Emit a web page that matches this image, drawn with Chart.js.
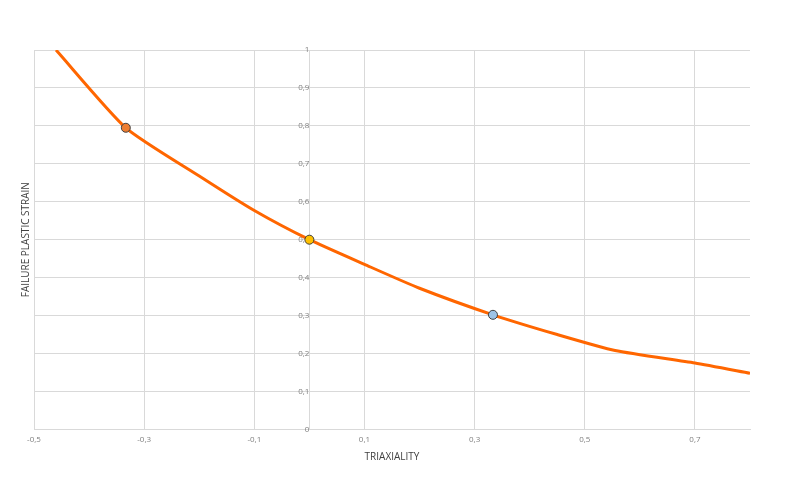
<!DOCTYPE html>
<html>
<head>
<meta charset="utf-8">
<script src="https://cdn.jsdelivr.net/npm/chart.js@4"></script>
<style>
  body { margin: 0; background: #fff; }
  #wrap { width: 787px; height: 484px; }
</style>
</head>
<body>
<div id="wrap"><canvas id="strainChart"></canvas></div>
<script>
// Curve
const triaxiality = [-0.46, -0.3333, -0.2, -0.1, 0, 0.1, 0.2, 0.3333, 0.45, 0.555, 0.7, 0.8]
const failureStrain = [1.0, 0.795, 0.668, 0.577, 0.5, 0.435, 0.372, 0.302, 0.25, 0.208, 0.175, 0.148]

// Marked points
const testTriax = [-0.3333, 0, 0.3333]
const testStrain = [0.795, 0.5, 0.302]
const testColors = ["#ED7D31", "#FFC000", "#9DC3E6"]

// Axis ticks
const xTicks = [-0.5, -0.3, -0.1, 0.1, 0.3, 0.5, 0.7]
const yTicks = [0, 0.1, 0.2, 0.3, 0.4, 0.5, 0.6, 0.7, 0.8, 0.9, 1]

const toPoints = (xs, ys) => xs.map((x, i) => ({ x: x, y: ys[i] }))
const comma = (v) => String(Number(v.toFixed(2))).replace(".", ",")

const gridColor = "#d9d9d9"
const tickFont = { family: "Open Sans", size: 8 }
const titleFont = { family: "Open Sans", size: 10 }

const ctx = document.querySelector("#strainChart").getContext("2d")

const chart = new Chart(ctx, {
  type: "scatter",
  data: {
    datasets: [
      {
        data: toPoints(testTriax, testStrain),
        pointRadius: 4.5,
        pointBackgroundColor: testColors,
        pointBorderColor: "#404040",
        pointBorderWidth: 1,
        showLine: false,
      },
      {
        data: toPoints(triaxiality, failureStrain),
        showLine: true,
        borderColor: "#FF6600",
        borderWidth: 3,
        pointRadius: 0,
        tension: 0.2,
      },
    ]
  },
  options: {
    animation: false,
    responsive: true,
    maintainAspectRatio: false,
    layout: {
      padding: { top: 50, right: 37, bottom: 14, left: 10 }
    },
    plugins: {
      legend: { display: false },
      tooltip: { enabled: false },
    },
    scales: {
      x: {
        type: "linear",
        position: "bottom",
        min: -0.5,
        max: 0.8,
        afterBuildTicks: (scale) => {
          scale.ticks = xTicks.map((v) => ({ value: v }))
        },
        ticks: {
          color: "#7f7f7f",
          font: tickFont,
          padding: 6,
          maxRotation: 0,
          autoSkip: false,
          callback: (value) => comma(value),
        },
        grid: {
          color: gridColor,
          drawTicks: false,
        },
        border: { display: true, color: gridColor },
        title: {
          display: true,
          text: "TRIAXIALITY",
          color: "#404040",
          font: titleFont,
          padding: { top: 0, bottom: 7 },
        },
      },
      y: {
        type: "linear",
        position: { x: 0 },
        min: 0,
        max: 1,
        afterBuildTicks: (scale) => {
          scale.ticks = yTicks.map((v) => ({ value: v }))
        },
        ticks: {
          color: "#7f7f7f",
          font: tickFont,
          padding: 4,
          callback: (value) => comma(value),
        },
        grid: {
          color: gridColor,
          drawTicks: false,
        },
        border: { display: true, color: gridColor },
      },
      yTitle: {
        type: "linear",
        position: "left",
        min: 0,
        max: 1,
        ticks: { display: false },
        grid: { display: false, drawTicks: false },
        border: { display: false },
        title: {
          display: true,
          text: "FAILURE PLASTIC STRAIN",
          color: "#404040",
          font: titleFont,
          padding: { top: 10, bottom: 2 },
        },
      },
    }
  }
})
</script>
</body>
</html>
